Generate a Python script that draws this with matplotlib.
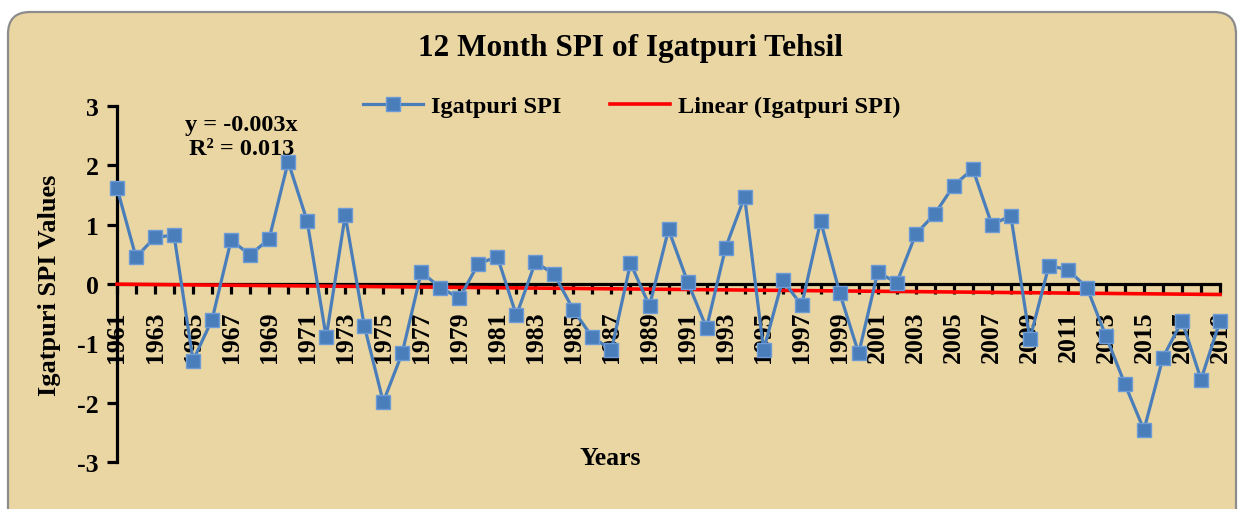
import numpy as np
import matplotlib
matplotlib.use("Agg")
import matplotlib.pyplot as plt
from matplotlib.patches import FancyBboxPatch

# 12 month SPI values, Igatpuri tehsil, 1961-2019
years = list(range(1961, 2020))
spi = [1.62, 0.45, 0.79, 0.82, -1.29, -0.60, 0.74, 0.49, 0.76, 2.06,
       1.06, -0.90, 1.16, -0.70, -1.99, -1.16, 0.20, -0.06, -0.24, 0.34,
       0.46, -0.53, 0.37, 0.16, -0.44, -0.90, -1.11, 0.35, -0.37, 0.92,
       0.04, -0.74, 0.61, 1.47, -1.11, 0.07, -0.36, 1.06, -0.15, -1.17,
       0.20, 0.02, 0.84, 1.18, 1.66, 1.94, 1.00, 1.15, -0.93, 0.31,
       0.24, -0.06, -0.88, -1.69, -2.46, -1.24, -0.62, -1.61, -0.62]

# Excel linear trendline, intercept forced to 0 (from the chart label)
trend_slope = -0.003
trend_label = "y = -0.003x\nR\u00b2 = 0.013"

font = "Liberation Serif"
bg = "#EAD6A3"

fig = plt.figure(figsize=(12.38, 5.10), dpi=100)
fig.patch.set_facecolor("white")

# rounded papyrus frame behind everything
back = fig.add_axes([0, 0, 1, 1])
back.set_xlim(0, 1238)
back.set_ylim(510, 0)
back.axis("off")
back.add_patch(FancyBboxPatch((8, 13), 1228, 525,
                              boxstyle="round,pad=0,rounding_size=22",
                              facecolor=bg, edgecolor="#8C8C8C", linewidth=1.6))

ax = fig.add_axes([0.0945, 0.0922, 0.891, 0.698])
ax.set_facecolor("none")

idx = np.arange(1, len(years) + 1)
trend = trend_slope * idx

ax.plot(years, spi, color="#4A7EBB", linewidth=2.3, marker="s", markersize=9.5,
        markerfacecolor="#4A7EBB", markeredgecolor="#6C9BD6", markeredgewidth=1,
        label="Igatpuri SPI", zorder=4, clip_on=False)
ax.plot(years, trend, color="#FF0000", linewidth=2.6,
        label="Linear (Igatpuri SPI)", zorder=3, clip_on=False)

ax.set_xlim(1961, 2019)
ax.set_ylim(-3, 3)

for s in ["top", "right"]:
    ax.spines[s].set_visible(False)
ax.spines["bottom"].set_position(("data", 0))
ax.spines["left"].set_linewidth(2.3)
ax.spines["bottom"].set_linewidth(2.3)

ax.set_xticks(years)
ax.set_xticklabels([str(y) if i % 2 == 0 else "" for i, y in enumerate(years)],
                   rotation=90, fontsize=18.5, fontweight="bold", family=font)
ax.set_yticks([-3, -2, -1, 0, 1, 2, 3])
ax.set_yticklabels(["-3", "-2", "-1", "0", "1", "2", "3"],
                   fontsize=18.5, fontweight="bold", family=font)
ax.tick_params(axis="x", direction="out", length=7, width=2.3, pad=12)
ax.tick_params(axis="y", direction="out", length=7, width=2.3, pad=6)

ax.set_ylabel("Igatpuri SPI Values", fontsize=19, fontweight="bold",
              family=font, labelpad=12)
fig.text(0.493, 0.10, "Years", fontsize=18.5, fontweight="bold", family=font,
         ha="center", va="center")

fig.text(0.509, 0.905, "12 Month SPI of Igatpuri Tehsil", fontsize=22.5,
         fontweight="bold", family=font, ha="center", va="center")

ax.text(0.195, 0.73, trend_label, transform=fig.transFigure, fontsize=17.5,
        fontweight="bold", family=font, ha="center", va="center",
        linespacing=1.2)

fig.legend(loc="center", bbox_to_anchor=(0.51, 0.79), ncol=2, frameon=False,
           prop={"family": font, "weight": "bold", "size": 17.5},
           handlelength=2.5, columnspacing=2.0, handletextpad=0.3)

fig.savefig("out.png", dpi=100)
